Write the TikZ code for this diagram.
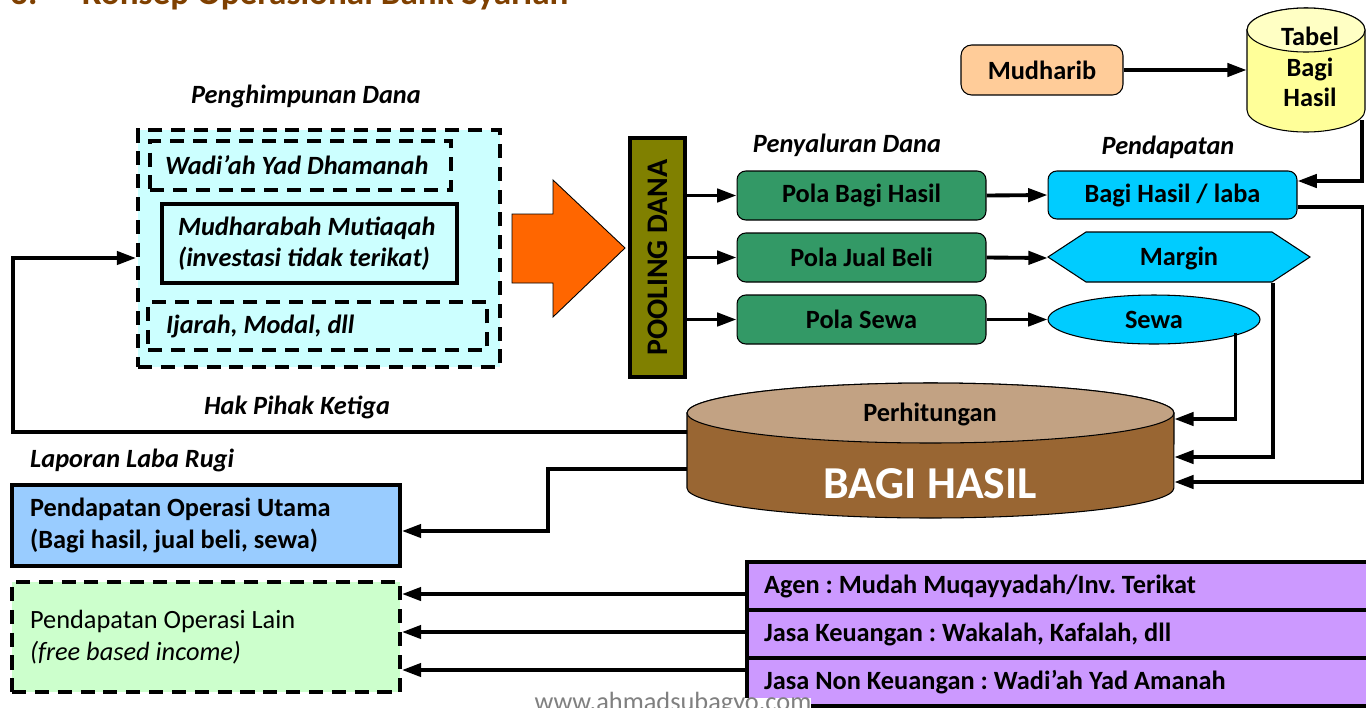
\documentclass[tikz,border=0pt]{standalone}
\usepackage{fontspec}
\setmainfont{Carlito}
\usepackage{graphicx}
\usetikzlibrary{arrows.meta,shapes.geometric}
\frenchspacing

\definecolor{judulcoklat}{HTML}{7F4000}
\definecolor{danacyan}{HTML}{CCFFFF}
\definecolor{panah}{HTML}{FF6600}
\definecolor{zaitun}{HTML}{808000}
\definecolor{polahijau}{HTML}{339966}
\definecolor{birulaut}{HTML}{00CCFF}
\definecolor{oranyemuda}{HTML}{FFCC99}
\definecolor{kuning}{HTML}{FFFF99}
\definecolor{kuningmuda}{HTML}{FFFFC4}
\definecolor{coklat}{HTML}{996633}
\definecolor{coklatmuda}{HTML}{C2A283}
\definecolor{biru}{HTML}{99CCFF}
\definecolor{hijaumuda}{HTML}{CCFFCC}
\definecolor{ungu}{HTML}{CC99FF}

\begin{document}
\begin{tikzpicture}[x=0.02cm,y=-0.02cm,>={Triangle[length=11pt,width=7.5pt]},
    txt/.style={font=\fontsize{15}{17.5}\selectfont\bfseries},
    ital/.style={font=\fontsize{15}{17.5}\selectfont\bfseries\itshape},
    conn/.style={->,line width=2.2pt},
    dashbox/.style={draw,line width=2.2pt,dash pattern=on 8pt off 5pt},
    polabox/.style={txt,draw,fill=polahijau,rounded corners=5pt,minimum width=4.98cm,minimum height=0.98cm,line width=0.6pt},
    jasabox/.style={txt,draw,fill=ungu,line width=2.2pt,minimum height=0.96cm,text width=11.98cm,inner xsep=0.34cm,align=flush left}]

    \useasboundingbox (0,0) rectangle (1366,707);

    % title, cut by the top edge
    \node[anchor=base west,text=judulcoklat,font=\fontsize{20}{24}\selectfont\bfseries] (nomor) at (4,4) {3.};
    \node[anchor=base west,text=judulcoklat,font=\fontsize{20}{24}\selectfont\bfseries] (judul) at (76,4) {Konsep Operasional Bank Syariah};

    % penghimpunan dana
    \node[ital] (lblhimpun) at (306,96) {Penghimpunan Dana};
    \node[dashbox,fill=danacyan,minimum width=7.24cm,minimum height=4.74cm] (dana) at (319,248.5) {};
    \node[dashbox,ital,text width=5.42cm,inner xsep=0.3cm,minimum height=0.98cm,align=flush left] (wadiah) at (300.5,165.5) {Wadi’ah Yad Dhamanah};
    \node[ital,draw,line width=2pt,text width=5.26cm,inner xsep=0.32cm,minimum height=1.58cm,align=flush left] (mudharabah) at (309.5,243.5) {Mudharabah Mutiaqah\\(investasi tidak terikat)};
    \node[dashbox,ital,text width=6.06cm,inner xsep=0.36cm,minimum height=0.96cm,align=flush left] (ijarah) at (317.5,326) {Ijarah, Modal, dll};

    % the big arrow
    \filldraw[fill=panah,draw=black,line width=0.5pt] (512,214) -- (553,214) -- (553,180) -- (625,248) -- (553,317) -- (553,283) -- (512,283) -- cycle;

    % pooling dana
    \node[draw,line width=1.8pt,fill=zaitun,minimum width=1.1cm,minimum height=4.78cm,font=\fontsize{17}{20}\selectfont\bfseries] (pool) at (657.5,257.5) {\rotatebox{90}{POOLING DANA}};

    % penyaluran dana
    \node[ital] (lblsalur) at (847,145) {Penyaluran Dana};
    \node[polabox] (pbh) at (861.5,195.5) {Pola Bagi Hasil};
    \node[polabox] (pjb) at (861.5,257.5) {Pola Jual Beli};
    \node[polabox] (psw) at (861.5,319.5) {Pola Sewa};

    % pendapatan
    \node[ital] (lbldapat) at (1168,147) {Pendapatan};
    \node[txt,draw,fill=birulaut,rounded corners=5pt,minimum width=4.98cm,minimum height=0.96cm,line width=0.6pt] (laba) at (1172.5,195) {Bagi Hasil / laba};
    \filldraw[fill=birulaut,line width=0.6pt] (1048,257) -- (1086,232) -- (1272,232) -- (1310,257) -- (1272,282) -- (1086,282) -- cycle;
    \node[txt,minimum width=5.24cm,minimum height=1cm] (margin) at (1179,258) {Margin};
    \node[txt,draw,ellipse,fill=birulaut,minimum width=4.24cm,minimum height=0.98cm,inner sep=0pt,line width=0.6pt] (sewa) at (1154,319.5) {Sewa};

    % mudharib and the table
    \node[txt,draw,fill=oranyemuda,rounded corners=6pt,minimum width=3.24cm,minimum height=1cm,line width=0.6pt] (mudharib) at (1042,70) {Mudharib};
    \filldraw[fill=kuning,line width=0.6pt] (1247,30) -- (1247,110) arc[start angle=180,end angle=360,x radius=1.18cm,y radius=0.44cm] -- (1365,30) arc[start angle=0,end angle=180,x radius=1.18cm,y radius=0.44cm] -- cycle;
    \filldraw[fill=kuningmuda,line width=0.6pt] (1306,30) ellipse[x radius=1.18cm,y radius=0.44cm];
    \node[minimum width=2.36cm,minimum height=2.48cm] (tabel) at (1306,70) {};
    \node[txt,align=center] (tabeltxt) at (1310,67) {Tabel\\Bagi\\Hasil};

    % perhitungan bagi hasil
    \filldraw[fill=coklat,line width=0.6pt] (687,413) -- (687,488) arc[start angle=180,end angle=360,x radius=4.87cm,y radius=0.6cm] -- (1174,413) arc[start angle=0,end angle=180,x radius=4.87cm,y radius=0.6cm] -- cycle;
    \filldraw[fill=coklatmuda,line width=0.6pt] (930.5,413) ellipse[x radius=4.87cm,y radius=0.6cm];
    \node[minimum width=9.74cm,minimum height=1.5cm] (bagi) at (930.5,450.5) {};
    \node[txt] (perh) at (930,414) {Perhitungan};
    \node[font=\fontsize{26}{30}\selectfont\bfseries,text=white] (bagihasil) at (930,484) {BAGI HASIL};

    % laporan laba rugi
    \node[ital] (lblhak) at (297,407) {Hak Pihak Ketiga};
    \node[ital,anchor=west] (lbllaporan) at (24,460) {Laporan Laba Rugi};
    \node[txt,draw,fill=biru,line width=2.2pt,text width=7.04cm,inner xsep=0.36cm,minimum height=1.62cm,align=flush left,font=\fontsize{15}{18.5}\selectfont\bfseries] (utama) at (206,525.5) {Pendapatan Operasi Utama\\(Bagi hasil, jual beli, sewa)};
    \node[dashbox,fill=hijaumuda,font=\fontsize{15}{18.5}\selectfont,text width=7.04cm,inner xsep=0.36cm,minimum height=2.2cm,align=flush left] (lain) at (206,637) {Pendapatan Operasi Lain\\\textit{(free based income)}};

    % jasa
    \node[jasabox] (agen) at (1063.5,586) {Agen : Mudah Muqayyadah/Inv. Terikat};
    \node[jasabox] (jasa) at (1063.5,634) {Jasa Keuangan : Wakalah, Kafalah, dll};
    \node[jasabox] (nonjasa) at (1063.5,682) {Jasa Non Keuangan : Wadi’ah Yad Amanah};

    % connectors
    \foreach \pola in {pbh,pjb,psw}
        \draw[conn] (pool.east |- \pola.west) -- (\pola.west);
    \draw[conn] (pbh.east) -- (laba.west);
    \draw[conn] (pjb.east) -- (margin.west);
    \draw[conn] (psw.east) -- (sewa.west);
    \draw[conn] (mudharib.east) -- (tabel.west |- mudharib.east);
    \draw[conn] ([xshift=-0.06cm,yshift=0.24cm]tabel.south east) |- ([yshift=0.28cm]laba.east);
    \draw[conn] ([yshift=-0.24cm]laba.east) -- ++(1.3cm,0) |- ([yshift=-0.63cm]bagi.east);
    \draw[conn] ([xshift=-0.74cm]margin.south east) |- ([yshift=-0.13cm]bagi.east);
    \draw[conn] ([xshift=-0.5cm,yshift=-0.26cm]sewa.east) |- ([yshift=0.63cm]bagi.east);
    \draw[conn] ([yshift=0.37cm]bagi.west) -- ++(-13.48cm,0) |- ([yshift=-0.19cm]dana.west);
    \draw[conn] ([yshift=-0.37cm]bagi.west) -- ++(-2.78cm,0) |- ([yshift=-0.11cm]utama.east);
    \foreach \src/\a/\b in {agen/-0.16/0.86, jasa/0.04/0.1, nonjasa/0.24/-0.66}
        \draw[conn] ([yshift=\a cm]\src.west) -- ([yshift=\b cm]lain.east);

    % watermark
    \node[anchor=base,fill=white,inner sep=0pt,text height=7pt,text depth=2pt,text=gray,font=\fontsize{15}{18}\selectfont] (web) at (673,710) {www.ahmadsubagyo.com};
\end{tikzpicture}
\end{document}
